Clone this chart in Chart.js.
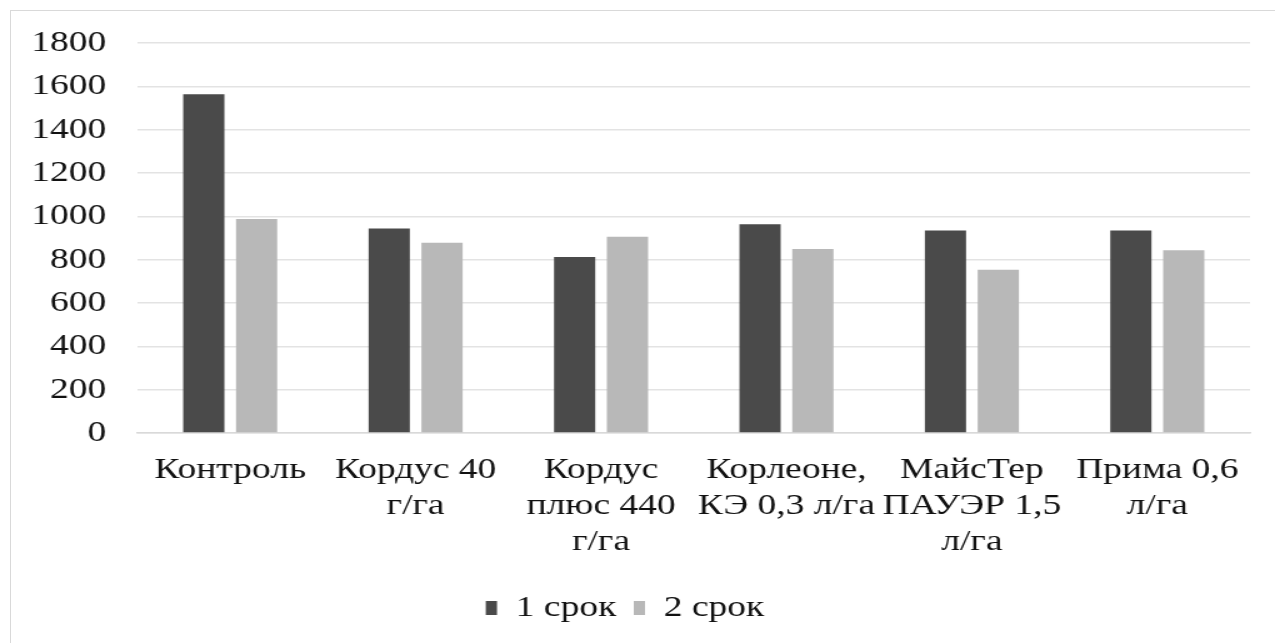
<!DOCTYPE html>
<html>
<head>
<meta charset="utf-8">
<script src="https://cdn.jsdelivr.net/npm/chart.js@4"></script>
<style>
 html,body{margin:0;padding:0;background:#fff;overflow:hidden}
 #frame{position:absolute;left:10px;top:10px;width:1300px;height:700px;border-top:1.5px solid #d9d9d9;border-left:1.5px solid #d9d9d9}
 #box{position:absolute;left:0;top:0;width:1020px;height:643px;transform:scaleX(1.25);transform-origin:0 0}
</style>
</head>
<body>
<div id="frame"></div>
<div id="box"><canvas id="c"></canvas></div>
<script>
// categories (wrapped as in the picture)
const cats=[['Контроль'],['Кордус 40','г/га'],['Кордус','плюс 440','г/га'],
 ['Корлеоне,','КЭ 0,3 л/га'],['МайсТер','ПАУЭР 1,5','л/га'],['Прима 0,6','л/га']];
const srok1=[1563,944,812,963,935,935];
const srok2=[988,878,906,849,753,843];
const names=['1 срок','2 срок'];

const font={family:'"Liberation Serif","Times New Roman",serif',size:30};

new Chart(c,{type:'bar',
 data:{labels:cats,datasets:[
  {label:names[0],data:srok1,backgroundColor:'#4a4a4a'},
  {label:names[1],data:srok2,backgroundColor:'#b8b8b8'}]},
 options:{responsive:true,maintainAspectRatio:false,animation:false,
  categoryPercentage:0.57,barPercentage:0.78,
  layout:{padding:{top:43,left:0,right:20,bottom:10}},
  plugins:{tooltip:{enabled:false},
   legend:{position:'bottom',labels:{color:'#111',font,boxWidth:9,boxHeight:14,padding:14}}},
  scales:{
   x:{grid:{display:false,drawTicks:false},border:{color:'#d9d9d9',width:1.5},
      ticks:{color:'#111',font,padding:19,maxRotation:0,autoSkip:false}},
   y:{min:0,max:1800,border:{display:false},
      grid:{color:'#e3e3e3',lineWidth:1.5,drawTicks:false},
      ticks:{stepSize:200,color:'#111',font,padding:25,callback:v=>String(v)}}
  }}});
</script>
</body>
</html>
